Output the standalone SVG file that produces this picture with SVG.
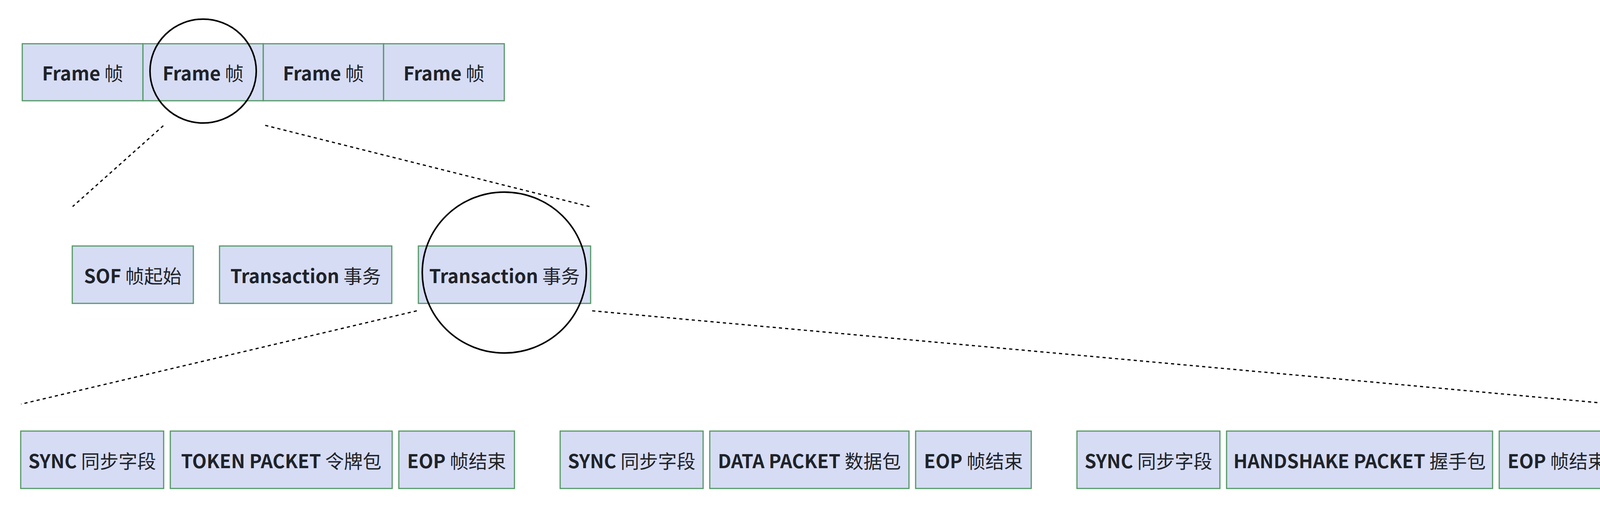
<svg xmlns="http://www.w3.org/2000/svg" width="4190" height="1301" viewBox="0 0 4190 1301">
<style>
.box{fill:#d6dcf4;stroke:#559966;stroke-width:3}
.lbl{font-family:"Noto Sans CJK SC","Noto Sans",sans-serif;font-size:48px;fill:#1f2329;text-anchor:middle}
.b{font-weight:bold}
.c{font-weight:normal}
.dot{stroke:#000;stroke-width:3.2;stroke-dasharray:8 8;fill:none}
.ring{fill:none;stroke:#000;stroke-width:4}
</style>
<rect width="4190" height="1301" fill="#fff"/>
<g id="frames">
<g id="frame1"><rect class="box" x="57" y="112" width="309" height="146"/><text class="lbl" x="211.5" y="206"><tspan class="b">Frame</tspan><tspan class="c"> 帧</tspan></text></g>
<g id="frame2"><rect class="box" x="366" y="112" width="308" height="146"/><text class="lbl" x="520" y="206"><tspan class="b">Frame</tspan><tspan class="c"> 帧</tspan></text></g>
<g id="frame3"><rect class="box" x="674" y="112" width="308" height="146"/><text class="lbl" x="828" y="206"><tspan class="b">Frame</tspan><tspan class="c"> 帧</tspan></text></g>
<g id="frame4"><rect class="box" x="982" y="112" width="309" height="146"/><text class="lbl" x="1136.5" y="206"><tspan class="b">Frame</tspan><tspan class="c"> 帧</tspan></text></g>
</g>
<g id="sof"><rect class="box" x="185" y="630" width="310" height="147"/><text class="lbl" x="340" y="725"><tspan class="b">SOF</tspan><tspan class="c"> 帧起始</tspan></text></g>
<g id="transaction1"><rect class="box" x="562" y="630" width="441" height="147"/><text class="lbl" x="782.5" y="725"><tspan class="b">Transaction</tspan><tspan class="c"> 事务</tspan></text></g>
<g id="transaction2"><rect class="box" x="1071" y="630" width="441" height="147"/><text class="lbl" x="1291.5" y="725"><tspan class="b">Transaction</tspan><tspan class="c"> 事务</tspan></text></g>
<g id="sync1"><rect class="box" x="53" y="1104" width="366" height="147"/><text class="lbl" x="236" y="1199"><tspan class="b">SYNC</tspan><tspan class="c"> 同步字段</tspan></text></g>
<g id="token"><rect class="box" x="436" y="1104" width="568" height="147"/><text class="lbl" x="720" y="1199"><tspan class="b">TOKEN PACKET</tspan><tspan class="c"> 令牌包</tspan></text></g>
<g id="eop1"><rect class="box" x="1021" y="1104" width="296" height="147"/><text class="lbl" x="1169" y="1199"><tspan class="b">EOP</tspan><tspan class="c"> 帧结束</tspan></text></g>
<g id="sync2"><rect class="box" x="1434" y="1104" width="366" height="147"/><text class="lbl" x="1617" y="1199"><tspan class="b">SYNC</tspan><tspan class="c"> 同步字段</tspan></text></g>
<g id="data"><rect class="box" x="1817" y="1104" width="510" height="147"/><text class="lbl" x="2072" y="1199"><tspan class="b">DATA PACKET</tspan><tspan class="c"> 数据包</tspan></text></g>
<g id="eop2"><rect class="box" x="2344" y="1104" width="296" height="147"/><text class="lbl" x="2492" y="1199"><tspan class="b">EOP</tspan><tspan class="c"> 帧结束</tspan></text></g>
<g id="sync3"><rect class="box" x="2757" y="1104" width="366" height="147"/><text class="lbl" x="2940" y="1199"><tspan class="b">SYNC</tspan><tspan class="c"> 同步字段</tspan></text></g>
<g id="handshake"><rect class="box" x="3140" y="1104" width="681" height="147"/><text class="lbl" x="3480.5" y="1199"><tspan class="b">HANDSHAKE PACKET</tspan><tspan class="c"> 握手包</tspan></text></g>
<g id="eop3"><rect class="box" x="3838" y="1104" width="296" height="147"/><text class="lbl" x="3986" y="1199"><tspan class="b">EOP</tspan><tspan class="c"> 帧结束</tspan></text></g>
<g id="highlights">
<ellipse class="ring" cx="520" cy="182" rx="136" ry="133"/>
<ellipse class="ring" cx="1291" cy="698" rx="210" ry="206"/>
</g>
<g id="connectors">
<line class="dot" x1="418" y1="322" x2="186" y2="529"/>
<line class="dot" x1="679" y1="321" x2="1509" y2="529"/>
<line class="dot" x1="1067" y1="796" x2="54" y2="1035"/>
<line class="dot" x1="1516" y1="796" x2="4132" y2="1035"/>
</g>
</svg>
